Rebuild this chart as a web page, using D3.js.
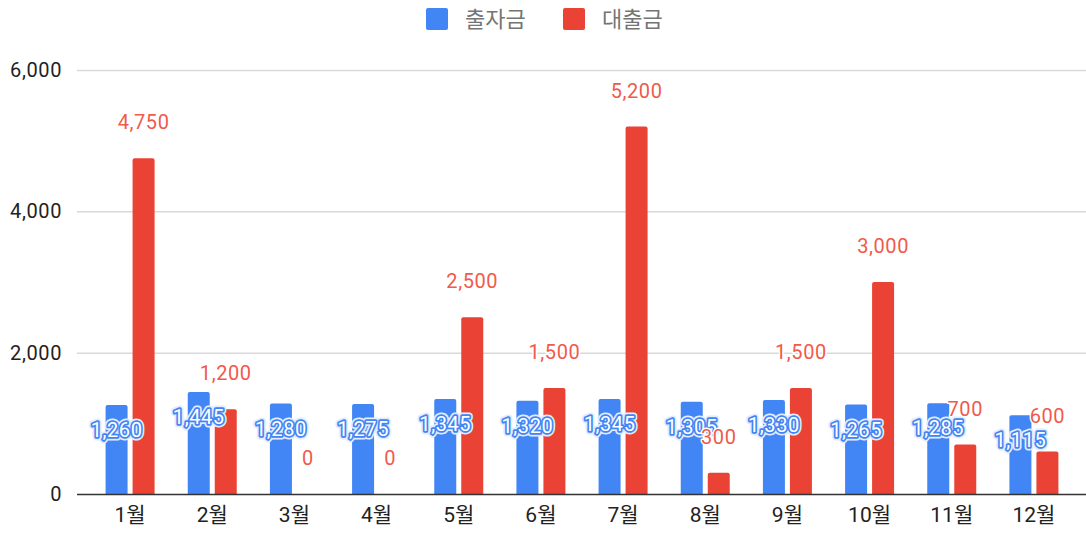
<!DOCTYPE html>
<html>
<head>
<meta charset="utf-8">
<script src="https://cdn.jsdelivr.net/npm/d3@7"></script>
<style>
  body { margin: 0; background: #fff; }
  text { font-family: Roboto, "Noto Sans CJK KR", sans-serif; }
</style>
</head>
<body>
<div id="chart"></div>
<script>
// chart data
var months = ["1월","2월","3월","4월","5월","6월","7월","8월","9월","10월","11월","12월"];
var investment = [1260, 1445, 1280, 1275, 1345, 1320, 1345, 1305, 1330, 1265, 1285, 1115];
var loans = [4750, 1200, 0, 0, 2500, 1500, 5200, 300, 1500, 3000, 700, 600];
var seriesNames = ["출자금", "대출금"];
var yTicks = [0, 2000, 4000, 6000];

var w = 1086;
var h = 533;
var blue = "#4285f4";
var red = "#ea4335";

var svg = d3.select("#chart")
            .append("svg")
            .attr("width", w)
            .attr("height", h);

// scales
var x = d3.scaleBand()
          .domain(months)
          .range([89, 1075]);

var y = d3.scaleLinear()
          .domain([0, 6000])
          .range([494, 70]);

var fmt = d3.format(",");

// gridlines
svg.selectAll("line.grid")
   .data(yTicks.slice(1))
   .enter()
   .append("line")
   .attr("x1", 77)
   .attr("x2", w)
   .attr("y1", function(d) { return y(d) + 0.5; })
   .attr("y2", function(d) { return y(d) + 0.5; })
   .attr("stroke", "#d9d9d9")
   .attr("stroke-width", 1.5);

// y axis labels
var yAxis = d3.axisLeft(y)
              .tickValues(yTicks)
              .tickSize(0)
              .tickPadding(0)
              .tickFormat(fmt);

svg.append("g")
   .attr("transform", "translate(62,0)")
   .call(yAxis)
   .call(function(g) { g.select(".domain").remove(); })
   .selectAll("text")
   .attr("font-size", 20)
   .attr("letter-spacing", 0.6)
   .attr("fill", "#222");

// rounded-top bar path
function barPath(x0, bw, v) {
    var top = y(v), base = y(0), r = 2;
    if (base - top < r) r = Math.max(0, base - top);
    return "M" + x0 + "," + base +
           "V" + (top + r) +
           "Q" + x0 + "," + top + " " + (x0 + r) + "," + top +
           "H" + (x0 + bw - r) +
           "Q" + (x0 + bw) + "," + top + " " + (x0 + bw) + "," + (top + r) +
           "V" + base + "Z";
}

var bw = 22;
var gap = 5;

// blue bars
svg.selectAll("path.inv")
   .data(months)
   .enter()
   .append("path")
   .attr("d", function(d, i) {
       var c = x(d) + x.bandwidth() / 2;
       return barPath(c - gap / 2 - bw, bw, investment[i]);
   })
   .attr("fill", blue);

// red bars
svg.selectAll("path.loan")
   .data(months)
   .enter()
   .append("path")
   .attr("d", function(d, i) {
       var c = x(d) + x.bandwidth() / 2;
       return barPath(c + gap / 2, bw, loans[i]);
   })
   .attr("fill", red);

// baseline
svg.append("line")
   .attr("x1", 77)
   .attr("x2", w)
   .attr("y1", y(0) + 0.5)
   .attr("y2", y(0) + 0.5)
   .attr("stroke", "#333")
   .attr("stroke-width", 1.5);

// x axis labels
var xAxis = d3.axisBottom(x).tickSize(0).tickPadding(0);
svg.append("g")
   .attr("transform", "translate(0,506)")
   .call(xAxis)
   .call(function(g) { g.select(".domain").remove(); })
   .selectAll("text")
   .attr("dy", "0.75em")
   .attr("font-size", 21)
   .attr("fill", "#222");

// blue labels (inside bars, with halo)
var invLabels = svg.selectAll("g.invlbl")
   .data(months)
   .enter()
   .append("g");

invLabels.append("text")
   .attr("x", function(d) { return x(d) + x.bandwidth() / 2 - gap / 2 - bw / 2; })
   .attr("y", function(d, i) { return y(investment[i]) + 32; })
   .attr("text-anchor", "middle")
   .attr("font-size", 20)
   .attr("letter-spacing", 0.6)
   .attr("fill", "#fff")
   .attr("stroke", "#e3ecfd")
   .attr("stroke-width", 7)
   .attr("stroke-linejoin", "round")
   .text(function(d, i) { return fmt(investment[i]); });

invLabels.append("text")
   .attr("x", function(d) { return x(d) + x.bandwidth() / 2 - gap / 2 - bw / 2; })
   .attr("y", function(d, i) { return y(investment[i]) + 32; })
   .attr("text-anchor", "middle")
   .attr("font-size", 20)
   .attr("letter-spacing", 0.6)
   .attr("fill", "#fff")
   .attr("stroke", blue)
   .attr("stroke-width", 3.5)
   .attr("stroke-linejoin", "round")
   .attr("paint-order", "stroke")
   .text(function(d, i) { return fmt(investment[i]); });

// red labels (above bars, white halo, drawn on top)
svg.selectAll("text.loanlbl")
   .data(months)
   .enter()
   .append("text")
   .attr("x", function(d) { return x(d) + x.bandwidth() / 2 + gap / 2 + bw / 2; })
   .attr("y", function(d, i) { return y(loans[i]) - 29; })
   .attr("text-anchor", "middle")
   .attr("font-size", 20)
   .attr("letter-spacing", 0.6)
   .attr("fill", "#f05a4c")
   .attr("stroke", "#fff")
   .attr("stroke-width", 3)
   .attr("stroke-linejoin", "round")
   .attr("paint-order", "stroke")
   .text(function(d, i) { return fmt(loans[i]); });

// legend
var legendX = [426, 563];
var legend = svg.selectAll("g.legend")
   .data(seriesNames)
   .enter()
   .append("g")
   .attr("transform", function(d, i) { return "translate(" + legendX[i] + ",8)"; });

legend.append("rect")
   .attr("width", 22)
   .attr("height", 22)
   .attr("rx", 2)
   .attr("fill", function(d, i) { return i == 0 ? blue : red; });

legend.append("text")
   .attr("x", 39)
   .attr("y", 19)
   .attr("font-size", 22)
   .attr("fill", "#757575")
   .text(function(d) { return d; });
</script>
</body>
</html>
